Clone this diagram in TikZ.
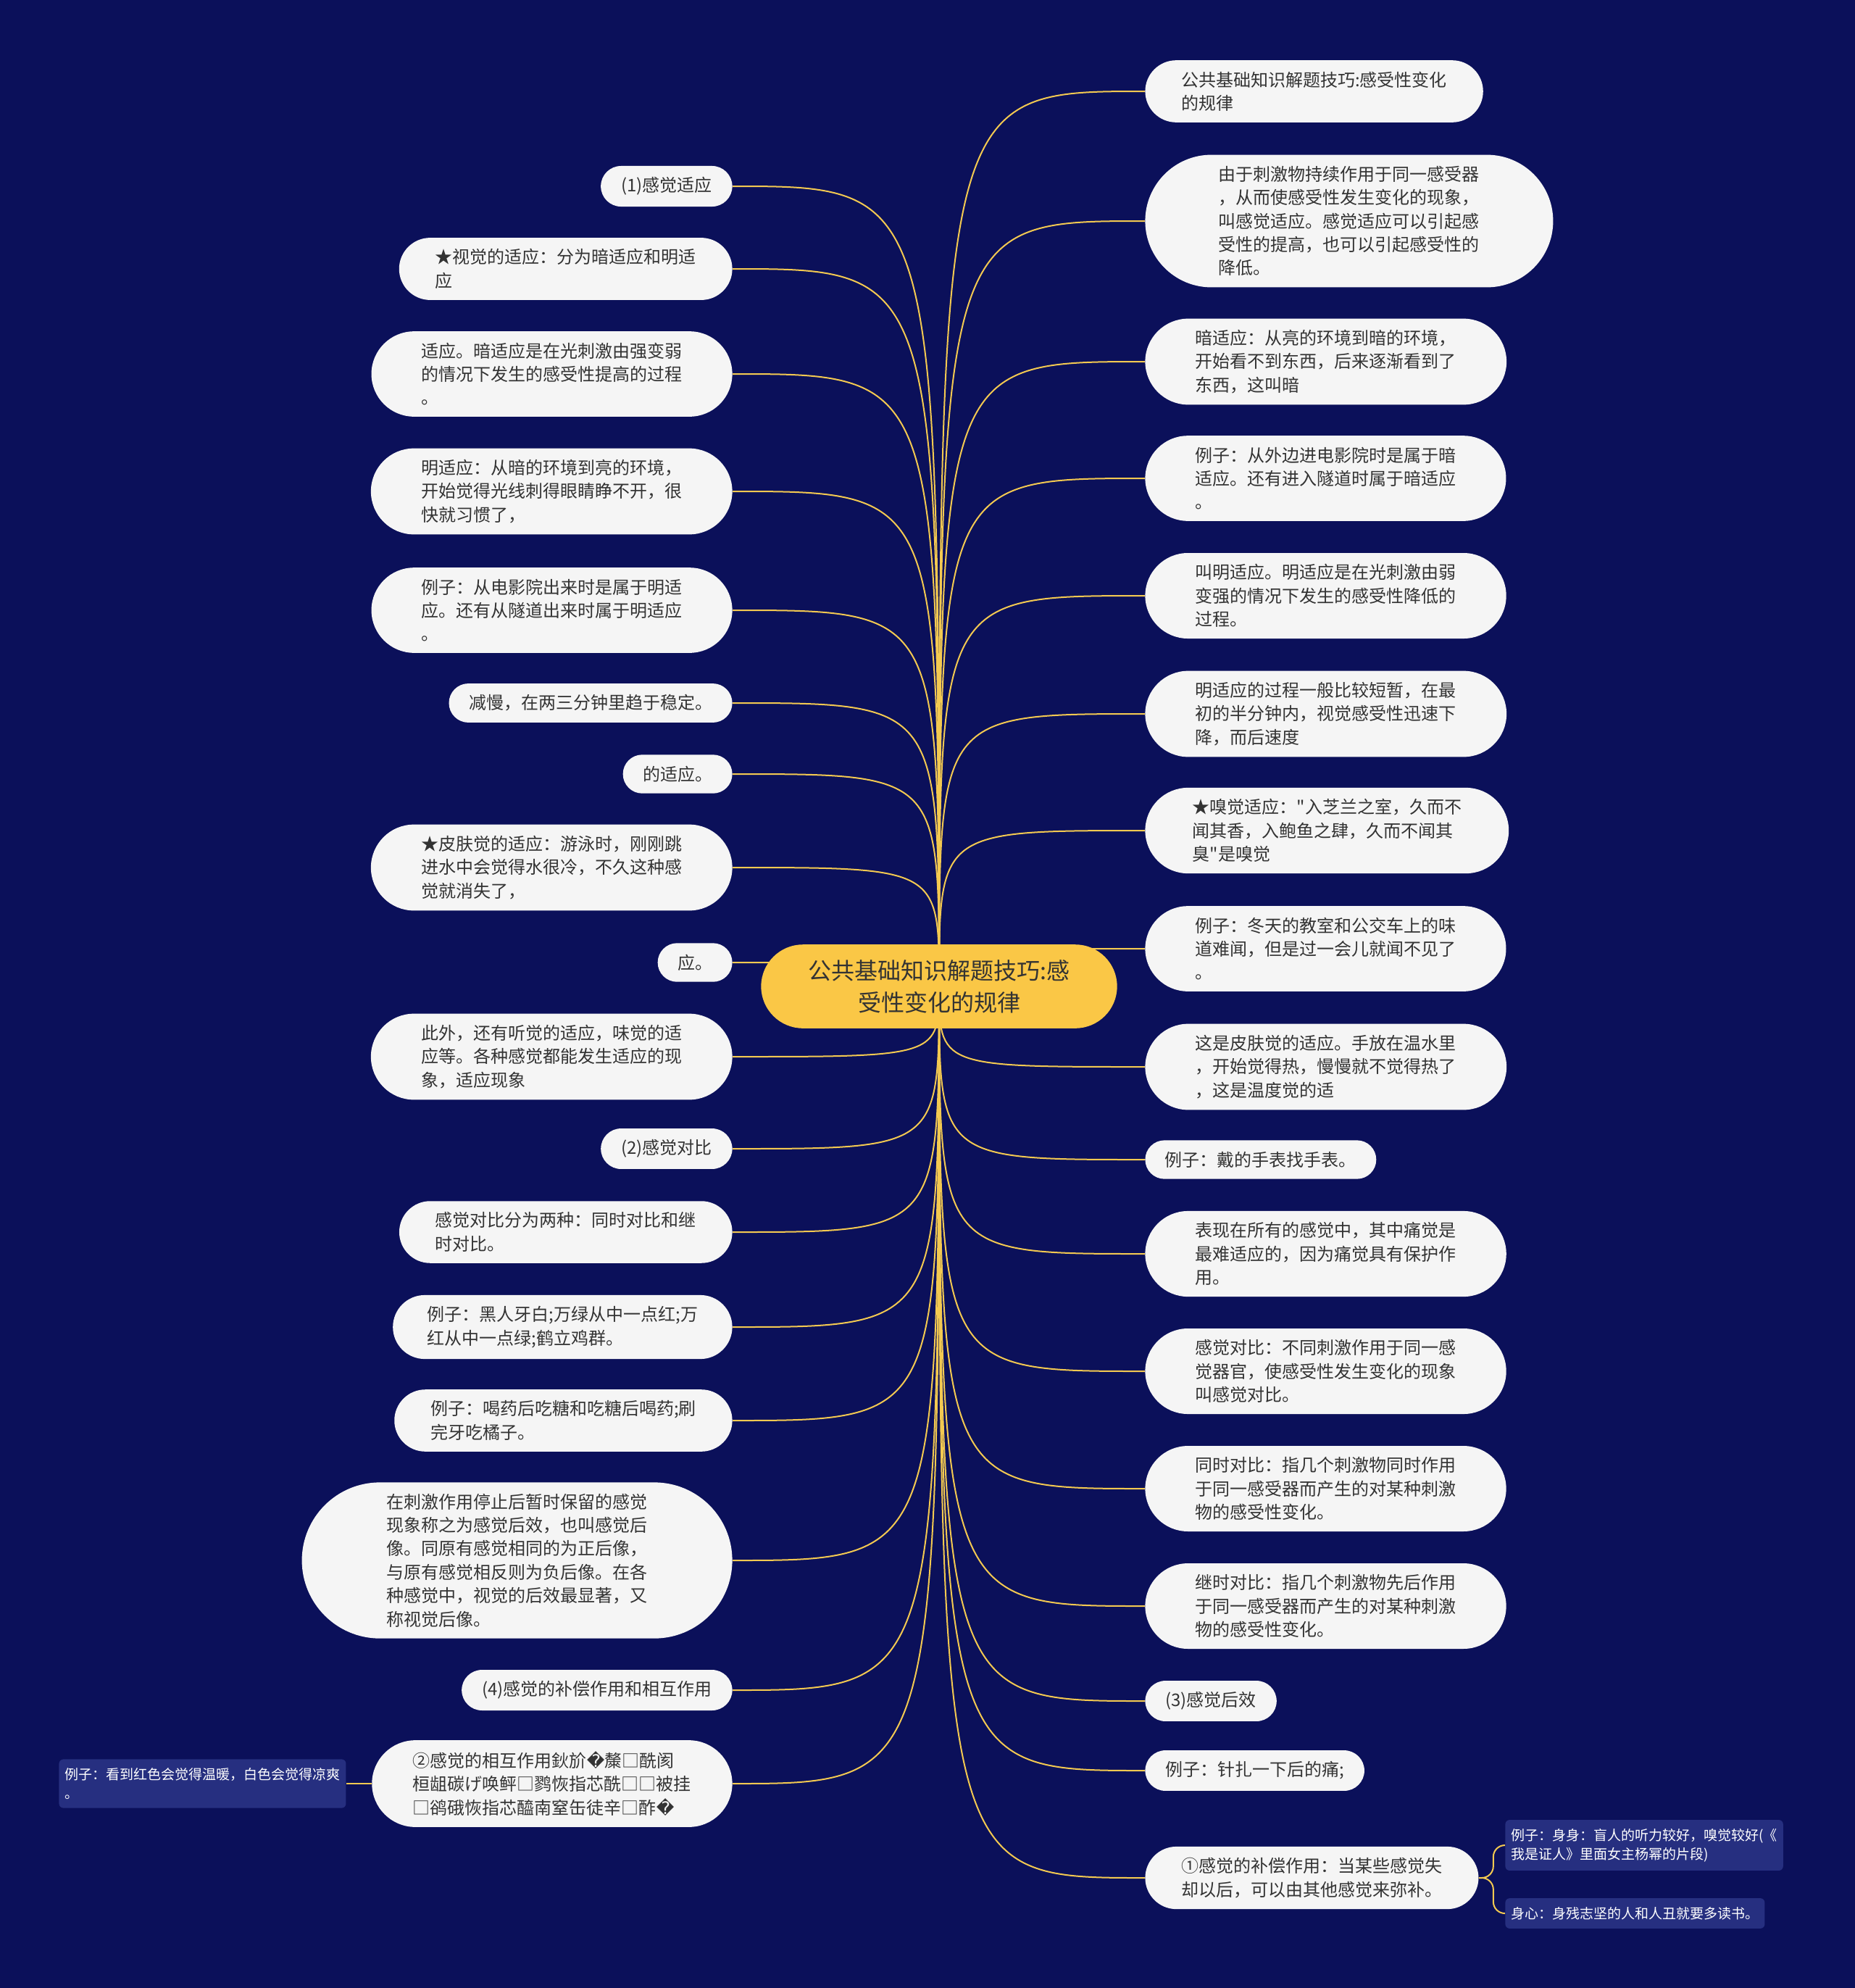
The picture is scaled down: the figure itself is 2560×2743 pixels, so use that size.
\documentclass[tikz,border=0pt]{standalone}
\usepackage{fontspec}
\setmainfont{Noto Sans CJK SC}
\newfontfamily\plaincjk{Noto Sans CJK SC}
\newfontfamily\symfont{DejaVu Sans}
\usetikzlibrary{shapes.misc, positioning, backgrounds}

\definecolor{bgnavy}{HTML}{0B105A}
\definecolor{pillgray}{HTML}{F5F5F5}
\definecolor{inkgray}{HTML}{333333}
\definecolor{rootgold}{HTML}{FAC746}
\definecolor{linegold}{HTML}{F3C951}
\definecolor{leafblue}{HTML}{262F80}

\begin{document}
\begin{tikzpicture}[
                x=0.5pt, y=-0.5pt,
                node distance=17.5pt,
                pill/.style={rounded rectangle, fill=pillgray, text=inkgray, align=left, font=\fontsize{12pt}{16.2pt}\selectfont, inner ysep=7.75pt},
                lbox/.style={pill, anchor=east, inner xsep=#1},
                lbox/.default=12.5pt,
                rbox/.style={pill, anchor=west, inner xsep=#1},
                rbox/.default=12.5pt,
                rootbox/.style={rounded rectangle, fill=rootgold, text=inkgray, align=center, font=\fontsize{16pt}{22pt}\selectfont, inner xsep=26pt, inner ysep=10.5pt},
                leafbox/.style={rectangle, rounded corners=3pt, fill=leafblue, text=white, align=left, font=\fontsize{9.5pt}{13pt}\selectfont, inner xsep=4pt, inner ysep=6pt},
                link/.style={draw=linegold, line width=1pt}
            ]
            \useasboundingbox (0,0) rectangle (2560,2743);

            \node (root) [rootbox] at (1296,1361) {公共基础知识解题技巧:感\\受性变化的规律};

            % left side
            \node (l1) [lbox] at (1011,257) {(1)感觉适应};
            \node (l2) [lbox=20pt] at (1011,371) {★视觉的适应：分为暗适应和明适\\应};
            \node (l3) [lbox=25pt] at (1011,516) {适应。暗适应是在光刺激由强变弱\\的情况下发生的感受性提高的过程\\。};
            \node (l4) [lbox=25pt] at (1011,678) {明适应：从暗的环境到亮的环境，\\开始觉得光线刺得眼睛睁不开，很\\快就习惯了，};
            \node (l5) [lbox=25pt] at (1011,842) {例子：从电影院出来时是属于明适\\应。还有从隧道出来时属于明适应\\。};
            \node (l6) [lbox] at (1011,970) {减慢，在两三分钟里趋于稳定。};
            \node (l7) [lbox] at (1011,1068) {的适应。};
            \node (l8) [lbox=25pt] at (1011,1197) {★皮肤觉的适应：游泳时，刚刚跳\\进水中会觉得水很冷，不久这种感\\觉就消失了，};
            \node (l9) [lbox] at (1011,1328) {应。};
            \node (l10) [lbox=25pt] at (1011,1458) {此外，还有听觉的适应，味觉的适\\应等。各种感觉都能发生适应的现\\象，适应现象};
            \node (l11) [lbox] at (1011,1585) {(2)感觉对比};
            \node (l12) [lbox=20pt] at (1011,1700) {感觉对比分为两种：同时对比和继\\时对比。};
            \node (l13) [lbox=18.5pt] at (1011,1831) {例子：黑人牙白;万绿从中一点红;万\\红从中一点绿;鹤立鸡群。};
            \node (l14) [lbox=20pt] at (1011,1960) {例子：喝药后吃糖和吃糖后喝药;刷\\完牙吃橘子。};
            \node (l15) [lbox=32.5pt] at (1011,2153) {在刺激作用停止后暂时保留的感觉\\现象称之为感觉后效，也叫感觉后\\像。同原有感觉相同的为正后像，\\与原有感觉相反则为负后像。在各\\种感觉中，视觉的后效最显著，又\\称视觉后像。};
            \node (l16) [lbox] at (1011,2332) {(4)感觉的补偿作用和相互作用};
            \node (l17) [lbox=18.5pt] at (1011,2461) {②感觉的相互作用鈥斺{\symfont �}斄□酰阂\\桓龃碳げ唤鲆□鹨恢指芯酰□□被挂\\□鹆硪恢指芯醯南窒缶徒辛□酢{\symfont �}};
            \node (l17a) [leafbox, left=of l17] {例子：看到红色会觉得温暖，白色会觉得凉爽\\。};

            % right side
            \node (r1) [rbox=20pt] at (1580,126) {公共基础知识解题技巧:感受性变化\\的规律};
            \node (r2) [rbox=30.5pt] at (1580,305) {由于刺激物持续作用于同一感受器\\，从而使感受性发生变化的现象，\\叫感觉适应。感觉适应可以引起感\\受性的提高，也可以引起感受性的\\降低。};
            \node (r3) [rbox=25pt] at (1580,499) {暗适应：从亮的环境到暗的环境，\\开始看不到东西，后来逐渐看到了\\东西，这叫暗};
            \node (r4) [rbox=25pt] at (1580,660) {例子：从外边进电影院时是属于暗\\适应。还有进入隧道时属于暗适应\\。};
            \node (r5) [rbox=25pt] at (1580,822) {叫明适应。明适应是在光刺激由弱\\变强的情况下发生的感受性降低的\\过程。};
            \node (r6) [rbox=25pt] at (1580,985) {明适应的过程一般比较短暂，在最\\初的半分钟内，视觉感受性迅速下\\降，而后速度};
            \node (r7) [rbox=23pt] at (1580,1146) {★嗅觉适应：{\plaincjk "}入芝兰之室，久而不\\闻其香，入鲍鱼之肆，久而不闻其\\臭{\plaincjk "}是嗅觉};
            \node (r8) [rbox=25pt] at (1580,1309) {例子：冬天的教室和公交车上的味\\道难闻，但是过一会儿就闻不见了\\。};
            \node (r9) [rbox=25pt] at (1580,1472) {这是皮肤觉的适应。手放在温水里\\，开始觉得热，慢慢就不觉得热了\\，这是温度觉的适};
            \node (r10) [rbox] at (1580,1600) {例子：戴的手表找手表。};
            \node (r11) [rbox=25pt] at (1580,1730) {表现在所有的感觉中，其中痛觉是\\最难适应的，因为痛觉具有保护作\\用。};
            \node (r12) [rbox=25pt] at (1580,1892) {感觉对比：不同刺激作用于同一感\\觉器官，使感受性发生变化的现象\\叫感觉对比。};
            \node (r13) [rbox=25pt] at (1580,2054) {同时对比：指几个刺激物同时作用\\于同一感受器而产生的对某种刺激\\物的感受性变化。};
            \node (r14) [rbox=25pt] at (1580,2216) {继时对比：指几个刺激物先后作用\\于同一感受器而产生的对某种刺激\\物的感受性变化。};
            \node (r15) [rbox] at (1580,2347) {(3)感觉后效};
            \node (r16) [rbox] at (1580,2443) {例子：针扎一下后的痛;};
            \node (r17) [rbox=20pt] at (1580,2591) {①感觉的补偿作用：当某些感觉失\\却以后，可以由其他感觉来弥补。};
            \node (r17a) [leafbox, anchor=west] at (2077,2546) {例子：身身：盲人的听力较好，嗅觉较好(《\\我是证人》里面女主杨幂的片段)};
            \node (r17b) [leafbox, anchor=west] at (2077,2640) {身心：身残志坚的人和人丑就要多读书。};

            \begin{pgfonlayer}{background}
            \fill [bgnavy] (0,0) rectangle (2560,2743);
            \draw [link] (root.center) .. controls (root.center |- l1.east) .. (l1.east);
            \draw [link] (root.center) .. controls (root.center |- l2.east) .. (l2.east);
            \draw [link] (root.center) .. controls (root.center |- l3.east) .. (l3.east);
            \draw [link] (root.center) .. controls (root.center |- l4.east) .. (l4.east);
            \draw [link] (root.center) .. controls (root.center |- l5.east) .. (l5.east);
            \draw [link] (root.center) .. controls (root.center |- l6.east) .. (l6.east);
            \draw [link] (root.center) .. controls (root.center |- l7.east) .. (l7.east);
            \draw [link] (root.center) .. controls (root.center |- l8.east) .. (l8.east);
            \draw [link] (root.center) .. controls (root.center |- l9.east) .. (l9.east);
            \draw [link] (root.center) .. controls (root.center |- l10.east) .. (l10.east);
            \draw [link] (root.center) .. controls (root.center |- l11.east) .. (l11.east);
            \draw [link] (root.center) .. controls (root.center |- l12.east) .. (l12.east);
            \draw [link] (root.center) .. controls (root.center |- l13.east) .. (l13.east);
            \draw [link] (root.center) .. controls (root.center |- l14.east) .. (l14.east);
            \draw [link] (root.center) .. controls (root.center |- l15.east) .. (l15.east);
            \draw [link] (root.center) .. controls (root.center |- l16.east) .. (l16.east);
            \draw [link] (root.center) .. controls (root.center |- l17.east) .. (l17.east);
            \draw [link] (l17.west) -- (l17a.east);
            \draw [link] (root.center) .. controls (root.center |- r1.west) .. (r1.west);
            \draw [link] (root.center) .. controls (root.center |- r2.west) .. (r2.west);
            \draw [link] (root.center) .. controls (root.center |- r3.west) .. (r3.west);
            \draw [link] (root.center) .. controls (root.center |- r4.west) .. (r4.west);
            \draw [link] (root.center) .. controls (root.center |- r5.west) .. (r5.west);
            \draw [link] (root.center) .. controls (root.center |- r6.west) .. (r6.west);
            \draw [link] (root.center) .. controls (root.center |- r7.west) .. (r7.west);
            \draw [link] (root.center) .. controls (root.center |- r8.west) .. (r8.west);
            \draw [link] (root.center) .. controls (root.center |- r9.west) .. (r9.west);
            \draw [link] (root.center) .. controls (root.center |- r10.west) .. (r10.west);
            \draw [link] (root.center) .. controls (root.center |- r11.west) .. (r11.west);
            \draw [link] (root.center) .. controls (root.center |- r12.west) .. (r12.west);
            \draw [link] (root.center) .. controls (root.center |- r13.west) .. (r13.west);
            \draw [link] (root.center) .. controls (root.center |- r14.west) .. (r14.west);
            \draw [link] (root.center) .. controls (root.center |- r15.west) .. (r15.west);
            \draw [link] (root.center) .. controls (root.center |- r16.west) .. (r16.west);
            \draw [link] (root.center) .. controls (root.center |- r17.west) .. (r17.west);
            \draw [link, rounded corners=8pt] (r17.east) -- ++(10pt,0) |- (r17a.west);
            \draw [link, rounded corners=8pt] (r17.east) -- ++(10pt,0) |- (r17b.west);
            \end{pgfonlayer}
\end{tikzpicture}
\end{document}
